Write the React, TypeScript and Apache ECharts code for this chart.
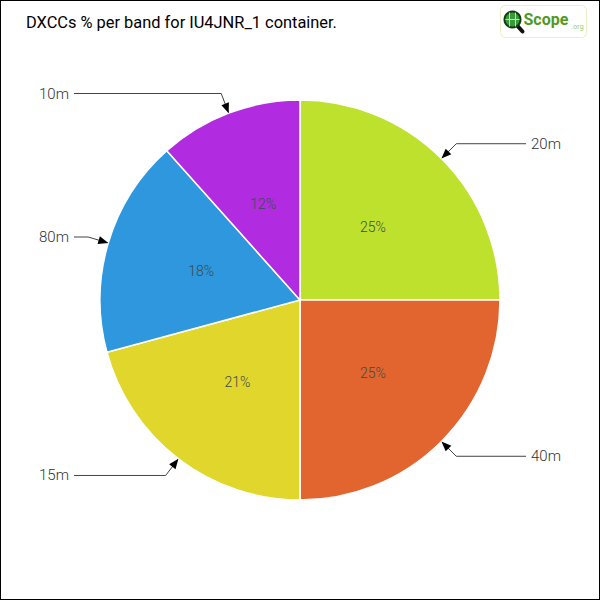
import React, { useEffect, useRef } from 'react';
import * as echarts from 'echarts';

const chartTitle = 'DXCCs % per band for IU4JNR_1 container.';
const bands = ['20m', '40m', '15m', '80m', '10m'];
const dxccShare = [25, 25, 20.8, 17.6, 11.6];
const sliceColors = ['#BEE12D', '#E26530', '#E0D62C', '#2E97DE', '#B12CE0'];

const FONT = 'Roboto, "Noto Sans", sans-serif';

export default function App() {
  const ref = useRef<HTMLDivElement>(null);
  useEffect(() => {
    document.body.style.margin = '0';
    const chart = echarts.init(ref.current!, null, { renderer: 'svg' });
    const data = bands.map((b, i) => ({ name: b, value: dxccShare[i], itemStyle: { color: sliceColors[i] } }));
    const ghost = bands.map((b, i) => ({ name: b, value: dxccShare[i], itemStyle: { color: 'rgba(0,0,0,0)' } }));
    const logo = {
      type: 'group',
      left: 499,
      top: 4,
      children: [
        { type: 'rect', shape: { x: 0, y: 0, width: 86, height: 32, r: 5 }, style: { fill: '#fff', stroke: '#e8f0c8', lineWidth: 1 } },
        { type: 'line', shape: { x1: 14, y1: 17, x2: 22, y2: 26 }, style: { stroke: '#111', lineWidth: 4, lineCap: 'round' } },
        { type: 'circle', shape: { cx: 12, cy: 14, r: 8 }, style: { fill: '#3a9a3a', stroke: '#143c14', lineWidth: 2 } },
        { type: 'line', shape: { x1: 9, y1: 7, x2: 9, y2: 21 }, style: { stroke: '#bde6a0', lineWidth: 1 } },
        { type: 'line', shape: { x1: 15, y1: 7, x2: 15, y2: 21 }, style: { stroke: '#bde6a0', lineWidth: 1 } },
        { type: 'line', shape: { x1: 5, y1: 14, x2: 19, y2: 14 }, style: { stroke: '#bde6a0', lineWidth: 1 } },
        { type: 'text', x: 23, y: 6, style: { text: 'Scope', fill: '#4f9a22', font: 'bold 16px Roboto, sans-serif' } },
        { type: 'text', x: 71, y: 18, style: { text: '.org', fill: '#9acd6a', font: '7px Roboto, sans-serif' } },
      ],
    };
    chart.setOption({
      animation: false,
      title: {
        text: chartTitle,
        left: 20,
        top: 8,
        textStyle: { fontFamily: FONT, fontSize: 16.4, fontWeight: 'normal', color: '#000' },
      },
      series: [
        {
          type: 'pie',
          center: [299, 299],
          radius: 200,
          startAngle: 90,
          clockwise: true,
          silent: true,
          data,
          itemStyle: { borderColor: '#fff', borderWidth: 1.5 },
          label: {
            show: true,
            position: 'outside',
            alignTo: 'edge',
            edgeDistance: 38,
            formatter: '{b}',
            color: '#333',
            fontSize: 15,
            fontWeight: 300,
            fontFamily: FONT,
          },
          labelLine: { show: true, length: 21, length2: 10, lineStyle: { color: '#444', width: 1 } },
          emphasis: { disabled: true },
        },
        {
          type: 'pie',
          center: [299, 299],
          radius: 200,
          startAngle: 90,
          clockwise: true,
          silent: true,
          data: ghost,
          label: {
            show: true,
            position: 'inner',
            formatter: (p: any) => Math.round(p.percent) + '%',
            color: '#3d4a4f',
            fontSize: 14,
            fontWeight: 300,
            fontFamily: FONT,
          },
          labelLine: { show: false },
          emphasis: { disabled: true },
        },
      ],
      graphic: [logo],
    });

    // Arrowheads at the slice end of each label line, derived from the chart's own layout.
    const model = (chart as any).getModel();
    const sData = model.getSeriesByIndex(0).getData();
    const arrows: any[] = [];
    for (let i = 0; i < sData.count(); i++) {
      let tip: number[] | null = null;
      let from: number[] | null = null;
      const el = sData.getItemGraphicEl(i);
      const gl = el && el.getTextGuideLine && el.getTextGuideLine();
      if (gl && gl.shape && gl.shape.points && gl.shape.points.length >= 2) {
        tip = gl.shape.points[0];
        from = gl.shape.points[1];
      } else {
        const l = sData.getItemLayout(i);
        const mid = (l.startAngle + l.endAngle) / 2;
        tip = [l.cx + l.r * Math.cos(mid), l.cy + l.r * Math.sin(mid)];
        from = [l.cx + (l.r + 10) * Math.cos(mid), l.cy + (l.r + 10) * Math.sin(mid)];
      }
      const dx = from[0] - tip[0];
      const dy = from[1] - tip[1];
      const len = Math.hypot(dx, dy) || 1;
      const ux = dx / len;
      const uy = dy / len;
      const L = 10;
      const W = 4;
      const bx = tip[0] + ux * L;
      const by = tip[1] + uy * L;
      arrows.push({
        type: 'polygon',
        silent: true,
        z: 100,
        shape: {
          points: [
            [tip[0], tip[1]],
            [bx - uy * W, by + ux * W],
            [bx + uy * W, by - ux * W],
          ],
        },
        style: { fill: '#000' },
      });
    }
    chart.setOption({ graphic: [logo, ...arrows] }, { replaceMerge: ['graphic'] });

    return () => chart.dispose();
  }, []);

  return (
    <div style={{ width: 600, height: 600, boxSizing: 'border-box', border: '1px solid #000', background: '#fff' }}>
      <div ref={ref} style={{ width: 598, height: 598 }} />
    </div>
  );
}
